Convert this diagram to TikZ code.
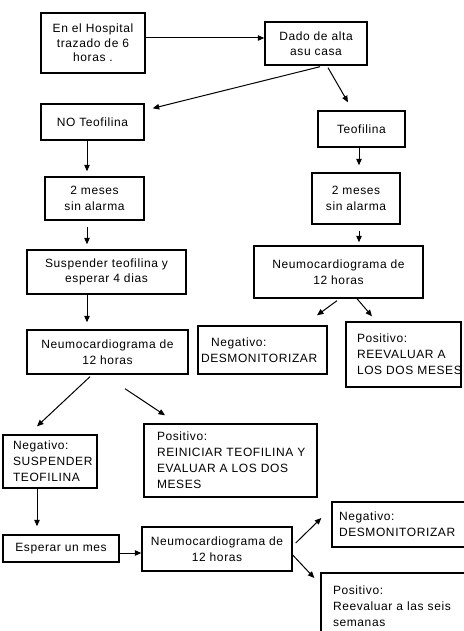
\documentclass[tikz,border=0pt]{standalone}
\usepackage{fontspec}
\setmainfont[LetterSpace=5]{Liberation Sans}
\usetikzlibrary{arrows.meta,calc}
\tikzset{
  box/.style={draw, line width=1.4pt, inner sep=0pt, align=center,
    font=\fontsize{12}{15.5}\selectfont},
  lbox/.style={box, align=left, font=\fontsize{12}{16}\selectfont},
  arr/.style={-{Triangle[length=6.5pt,width=5.5pt]}, line width=1pt}
}
\newcommand\oneline[1]{\mbox{#1}}
\begin{document}
\begin{tikzpicture}[x=1pt,y=-1pt]
\useasboundingbox[fill=white] (0,0) rectangle (463,631);
\node[box, minimum width=104pt, minimum height=60pt, font=\fontsize{12}{14.5}\selectfont] (b1) at (93,43) {En el Hospital\\trazado de 6\\horas .};
\node[box, minimum width=102pt, minimum height=43pt] (b2) at (316,43.5) {Dado de alta\\asu casa};
\node[box, minimum width=103pt, minimum height=36pt] (b3) at (92.5,122) {NO Teofilina};
\node[box, minimum width=87pt, minimum height=36pt] (b4) at (361.5,129) {Teofilina};
\node[box, minimum width=99pt, minimum height=43pt] (b5) at (94.5,198.5) {2 meses\\sin alarma};
\node[box, minimum width=88pt, minimum height=51pt] (b6) at (356,198.5) {2 meses\\sin alarma};
\node[box, minimum width=159pt, minimum height=44pt] (b7) at (106.5,272) {Suspender teofilina y\\esperar 4 dias};
\node[box, minimum width=169pt, minimum height=52pt] (b8) at (338.5,272) {Neumocardiograma de\\12 horas};
\node[box, minimum width=161pt, minimum height=44pt] (b9) at (107.5,352) {Neumocardiograma de\\12 horas};
\node[lbox, inner xsep=3pt, text width=123pt, minimum height=48pt] (b10) at (262.5,350) {\hspace*{10pt}\oneline{Negativo:}\\\oneline{DESMONITORIZAR}};
\node[lbox, inner xsep=11pt, text width=93pt, minimum height=65pt] (b11) at (403.5,354.5) {\oneline{Positivo:}\\\oneline{REEVALUAR A}\\\oneline{LOS DOS MESES}};
\node[lbox, inner xsep=10pt, text width=74pt, minimum height=53pt] (b12) at (50,461.5) {\oneline{Negativo:}\\\oneline{SUSPENDER}\\\oneline{TEOFILINA}};
\node[lbox, inner xsep=13pt, text width=147pt, minimum height=73pt] (b13) at (230.5,460.5) {\oneline{Positivo:}\\\oneline{REINICIAR TEOFILINA Y}\\\oneline{EVALUAR A LOS DOS}\\\oneline{MESES}};
\node[box, minimum width=116pt, minimum height=27pt] (b14) at (61,548.5) {Esperar un mes};
\node[box, minimum width=150pt, minimum height=44pt] (b15) at (217,549) {Neumocardiograma de\\12 horas};
\node[lbox, inner xsep=7pt, text width=124pt, minimum height=45pt] (b16) at (401,524.5) {\oneline{Negativo:}\\\oneline{DESMONITORIZAR}};
\node[lbox, inner xsep=12pt, text width=125pt, minimum height=67pt] (b17) at (395.5,606.5) {\oneline{Positivo:}\\\oneline{Reevaluar a las seis}\\\oneline{semanas}};
% connectors
\draw[arr] ([yshift=5pt]b1.east) -- ([yshift=5.5pt]b2.west);
\draw[arr] ($(b2.south)+(4,1)$) -- ($(b3.north east)+(8,5)$);
\draw[arr] ($(b2.south)+(12,2)$) -- ($(b4.north)+(-13.5,-8)$);
\draw[arr] ($(b3.south)+(-5.5,0)$) -- ($(b5.north)+(-7.5,-5)$);
\draw[arr] ($(b5.south)+(-7.5,6)$) -- ($(b7.north)+(-19.5,-5)$);
\draw[arr] ($(b7.south)+(-19.5,0)$) -- ($(b9.north)+(-20.5,-7)$);
\draw[arr] ($(b4.south)+(-2.5,0)$) -- ($(b6.north)+(3,-7)$);
\draw[arr] ($(b6.south)+(3,6)$) -- ($(b8.north)+(20.5,-3)$);
\draw[arr] ($(b8.south)+(-1.5,2)$) -- ($(b10.north)+(54.5,-10)$);
\draw[arr] ($(b8.south)+(18.5,0)$) -- ($(b11.north)+(-31.5,-5)$);
\draw[arr] ($(b9.south)+(-17.5,2)$) -- ($(b12.north)+(-13,-8)$);
\draw[arr] ($(b9.south)+(17.5,14)$) -- ($(b13.north)+(-65.5,-8)$);
\draw[arr] ($(b12.south)+(-13,0)$) -- ($(b14.north)+(-24,-8)$);
\draw[arr] ($(b14.east)+(0,4.5)$) -- ($(b15.west)+(0,4)$);
\draw[arr] ($(b15.east)+(3,-6)$) -- ($(b16.west)+(-10,-6.5)$);
\draw[arr] ($(b15.east)+(0,6)$) -- ($(b17.west)+(-6,-28.5)$);
\end{tikzpicture}
\end{document}
